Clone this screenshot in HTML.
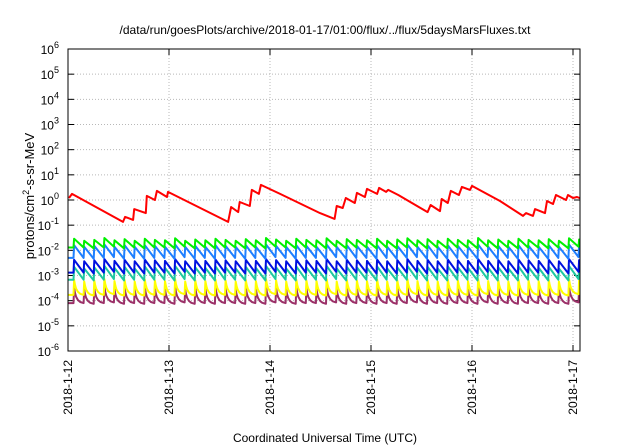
<!DOCTYPE html>
<html><head><meta charset="utf-8">
<style>
html,body{margin:0;padding:0;background:#fff;}
svg{display:block;font-family:"Liberation Sans",sans-serif;}
</style></head>
<body>
<svg id="chart" width="640" height="448" viewBox="0 0 640 448">
  <text x="325" y="34" font-size="12" text-anchor="middle" fill="#000">/data/run/goesPlots/archive/2018-01-17/01:00/flux/../flux/5daysMarsFluxes.txt</text>
  <g id="grid"></g>
  <g id="yticks"></g>
  <g id="xticks"></g>
  <defs><clipPath id="clip"><rect x="68" y="49" width="512" height="302"/></clipPath></defs>
  <g id="series" clip-path="url(#clip)"></g>
  <rect x="68" y="49" width="512" height="302" fill="none" stroke="#000" stroke-width="1"/>
  <text transform="translate(34,196) rotate(-90)" font-size="13" text-anchor="middle">protons/cm<tspan dy="-5" font-size="9">2</tspan><tspan dy="5">-s-sr-MeV</tspan></text>
  <text x="325" y="442" font-size="12" text-anchor="middle">Coordinated Universal Time (UTC)</text>
</svg>
<script>
const yTickExps = [6,5,4,3,2,1,0,-1,-2,-3,-4,-5,-6];
const xTickLabels = ["2018-1-12","2018-1-13","2018-1-14","2018-1-15","2018-1-16","2018-1-17"];
const xTickDays = [0,1,2,3,4,5];

const redDays = [0.01,0.04,0.545,0.565,0.645,0.655,0.77,0.78,0.86,0.88,0.98,0.99,1.585,1.615,1.685,1.70,1.80,1.82,1.89,1.91,2.10,2.495,2.64,2.66,2.72,2.75,2.84,2.86,2.94,2.96,3.06,3.08,3.15,3.17,3.27,3.49,3.56,3.59,3.683,3.70,3.76,3.79,3.87,3.90,3.98,4.0,4.277,4.505,4.535,4.604,4.624,4.723,4.743,4.802,4.832,4.931,4.95,5.0,5.04,5.09];
const redVals = [1.2,1.74,0.135,0.214,0.162,0.436,0.302,1.45,1.0,2.29,1.32,2.09,0.135,0.525,0.331,0.832,0.575,2.51,1.74,3.98,1.74,0.302,0.178,0.575,0.479,1.2,0.759,1.91,1.32,2.75,1.74,3.02,2.09,2.51,1.58,0.479,0.331,0.631,0.363,1.10,0.759,2.29,1.58,3.31,2.51,3.63,0.912,0.234,0.302,0.234,0.436,0.302,0.912,0.692,1.58,1.0,1.58,1.2,1.32,1.10];

const cycleDays = [0.06,0.16,0.26,0.36,0.46,0.56,0.66,0.76,0.86,0.96,1.06,1.16,1.26,1.36,1.46,1.56,1.66,1.76,1.86,1.96,2.06,2.16,2.26,2.36,2.46,2.56,2.66,2.76,2.86,2.96,3.06,3.16,3.26,3.36,3.46,3.56,3.66,3.76,3.86,3.96,4.06,4.16,4.26,4.36,4.46,4.56,4.66,4.76,4.86,4.96,5.06];

const greenPeaks = [0.029,0.024,0.026,0.031,0.025,0.028,0.024,0.029,0.026,0.025,0.030,0.024,0.027,0.025,0.029,0.026,0.024,0.028,0.025,0.031,0.027,0.024,0.029,0.026,0.025,0.030,0.024,0.028,0.026,0.025,0.029,0.024,0.027,0.030,0.025,0.028,0.024,0.029,0.026,0.025,0.031,0.025,0.027,0.024,0.029,0.026,0.025,0.028,0.024,0.030,0.027];
const greenTroughs = [0.013,0.012,0.013,0.014,0.012,0.013,0.012,0.013,0.013,0.012,0.014,0.012,0.013,0.012,0.013,0.013,0.012,0.013,0.012,0.014,0.013,0.012,0.013,0.013,0.012,0.014,0.012,0.013,0.013,0.012,0.013,0.012,0.013,0.014,0.012,0.013,0.012,0.013,0.013,0.012,0.014,0.012,0.013,0.012,0.013,0.013,0.012,0.013,0.012,0.014,0.013];
const lblPeaks = [0.016,0.014,0.015,0.017,0.014,0.016,0.014,0.016,0.015,0.014,0.017,0.014,0.015,0.014,0.016,0.015,0.014,0.016,0.014,0.017,0.015,0.014,0.016,0.015,0.014,0.017,0.014,0.016,0.015,0.014,0.016,0.014,0.015,0.017,0.014,0.016,0.014,0.016,0.015,0.014,0.017,0.014,0.015,0.014,0.016,0.015,0.014,0.016,0.014,0.017,0.015];
const lblTroughs = [0.0050,0.0046,0.0050,0.0054,0.0046,0.0050,0.0046,0.0050,0.0050,0.0046,0.0054,0.0046,0.0050,0.0046,0.0050,0.0050,0.0046,0.0050,0.0046,0.0054,0.0050,0.0046,0.0050,0.0050,0.0046,0.0054,0.0046,0.0050,0.0050,0.0046,0.0050,0.0046,0.0050,0.0054,0.0046,0.0050,0.0046,0.0050,0.0050,0.0046,0.0054,0.0046,0.0050,0.0046,0.0050,0.0050,0.0046,0.0050,0.0046,0.0054,0.0050];
const dblPeaks = [0.0042,0.0037,0.0040,0.0045,0.0038,0.0042,0.0037,0.0043,0.0040,0.0038,0.0045,0.0037,0.0041,0.0038,0.0043,0.0040,0.0037,0.0042,0.0038,0.0045,0.0041,0.0037,0.0043,0.0040,0.0038,0.0045,0.0037,0.0042,0.0040,0.0038,0.0043,0.0037,0.0041,0.0045,0.0038,0.0042,0.0037,0.0043,0.0040,0.0038,0.0045,0.0038,0.0041,0.0037,0.0043,0.0040,0.0038,0.0042,0.0037,0.0045,0.0041];
const dblTroughs = [0.0013,0.0012,0.0013,0.0014,0.0012,0.0013,0.0012,0.0013,0.0013,0.0012,0.0014,0.0012,0.0013,0.0012,0.0013,0.0013,0.0012,0.0013,0.0012,0.0014,0.0013,0.0012,0.0013,0.0013,0.0012,0.0014,0.0012,0.0013,0.0013,0.0012,0.0013,0.0012,0.0013,0.0014,0.0012,0.0013,0.0012,0.0013,0.0013,0.0012,0.0014,0.0012,0.0013,0.0012,0.0013,0.0013,0.0012,0.0013,0.0012,0.0014,0.0013];
const tealPeaks = [0.0022,0.0019,0.0021,0.0024,0.0020,0.0022,0.0019,0.0023,0.0021,0.0020,0.0024,0.0019,0.0021,0.0020,0.0023,0.0021,0.0019,0.0022,0.0020,0.0024,0.0021,0.0019,0.0023,0.0021,0.0020,0.0024,0.0019,0.0022,0.0021,0.0020,0.0023,0.0019,0.0021,0.0024,0.0020,0.0022,0.0019,0.0023,0.0021,0.0020,0.0024,0.0020,0.0021,0.0019,0.0023,0.0021,0.0020,0.0022,0.0019,0.0024,0.0021];
const tealTroughs = [0.00068,0.00064,0.00068,0.00072,0.00064,0.00068,0.00064,0.00068,0.00068,0.00064,0.00072,0.00064,0.00068,0.00064,0.00068,0.00068,0.00064,0.00068,0.00064,0.00072,0.00068,0.00064,0.00068,0.00068,0.00064,0.00072,0.00064,0.00068,0.00068,0.00064,0.00068,0.00064,0.00068,0.00072,0.00064,0.00068,0.00064,0.00068,0.00068,0.00064,0.00072,0.00064,0.00068,0.00064,0.00068,0.00068,0.00064,0.00068,0.00064,0.00072,0.00068];
const yellowPeaks = [0.00067,0.00058,0.00063,0.00072,0.00060,0.00066,0.00058,0.00069,0.00063,0.00060,0.00072,0.00058,0.00064,0.00060,0.00069,0.00063,0.00058,0.00066,0.00060,0.00072,0.00064,0.00058,0.00069,0.00063,0.00060,0.00072,0.00058,0.00066,0.00063,0.00060,0.00069,0.00058,0.00064,0.00072,0.00060,0.00066,0.00058,0.00069,0.00063,0.00060,0.00072,0.00060,0.00064,0.00058,0.00069,0.00063,0.00060,0.00066,0.00058,0.00072,0.00064];
const yellowTroughs = [0.00017,0.00016,0.00017,0.00018,0.00016,0.00017,0.00016,0.00017,0.00017,0.00016,0.00018,0.00016,0.00017,0.00016,0.00017,0.00017,0.00016,0.00017,0.00016,0.00018,0.00017,0.00016,0.00017,0.00017,0.00016,0.00018,0.00016,0.00017,0.00017,0.00016,0.00017,0.00016,0.00017,0.00018,0.00016,0.00017,0.00016,0.00017,0.00017,0.00016,0.00018,0.00016,0.00017,0.00016,0.00017,0.00017,0.00016,0.00017,0.00016,0.00018,0.00017];
const purplePeaks = [0.00032,0.00027,0.00030,0.00035,0.00028,0.00032,0.00027,0.00033,0.00030,0.00028,0.00035,0.00027,0.00031,0.00028,0.00033,0.00030,0.00027,0.00032,0.00028,0.00035,0.00031,0.00027,0.00033,0.00030,0.00028,0.00035,0.00027,0.00032,0.00030,0.00028,0.00033,0.00027,0.00031,0.00035,0.00028,0.00032,0.00027,0.00033,0.00030,0.00028,0.00035,0.00028,0.00031,0.00027,0.00033,0.00030,0.00028,0.00032,0.00027,0.00035,0.00031];
const purpleTroughs = [0.000080,0.000075,0.000080,0.000085,0.000075,0.000080,0.000075,0.000080,0.000080,0.000075,0.000085,0.000075,0.000080,0.000075,0.000080,0.000080,0.000075,0.000080,0.000075,0.000085,0.000080,0.000075,0.000080,0.000080,0.000075,0.000085,0.000075,0.000080,0.000080,0.000075,0.000080,0.000075,0.000080,0.000085,0.000075,0.000080,0.000075,0.000080,0.000080,0.000075,0.000085,0.000075,0.000080,0.000075,0.000080,0.000080,0.000075,0.000080,0.000075,0.000085,0.000080];

const L=68,R=580,T=49,B=351,DAY=101;
const LOGMAX=6,LOGMIN=-6;
function xS(d){return L+d*DAY;}
function yS(v){return T+(LOGMAX-Math.log10(v))*(B-T)/(LOGMAX-LOGMIN);}
function yE(e){return T+(LOGMAX-e)*(B-T)/(LOGMAX-LOGMIN);}
const NS="http://www.w3.org/2000/svg";
function mk(tag,attrs,parent){const el=document.createElementNS(NS,tag);for(const k in attrs)el.setAttribute(k,attrs[k]);parent.appendChild(el);return el;}

const grid=document.getElementById('grid'),yt=document.getElementById('yticks'),xt=document.getElementById('xticks'),sg=document.getElementById('series');

yTickExps.forEach(e=>{
  const y=yE(e);
  if(e!==6&&e!==-6){
    const g=mk('line',{x1:L,x2:R,y1:y,y2:y,stroke:'#b8b8b8','stroke-width':1,'stroke-dasharray':'1,2'},grid);
    
    
  }
  const t1=mk('line',{x1:L,x2:L+6,y1:y,y2:y,stroke:'#000'},yt);
  
  
  const t2=mk('line',{x1:R-6,x2:R,y1:y,y2:y,stroke:'#000'},yt);
  
  
  const lab=mk('text',{x:59,y:y+5,'font-size':12,'text-anchor':'end'},yt);
  
  
  lab.textContent='10';
  const sup=mk('tspan',{dy:-6,'font-size':9},lab);
  sup.textContent=String(e);
});

xTickDays.forEach((d,i)=>{
  const x=xS(d);
  const g=mk('line',{x1:x,x2:x,y1:T,y2:B,stroke:'#b8b8b8','stroke-width':1,'stroke-dasharray':'1,2'},grid);
  
  
  const t1=mk('line',{x1:x,x2:x,y1:B-6,y2:B,stroke:'#000'},xt);
  
  
  const t2=mk('line',{x1:x,x2:x,y1:T,y2:T+6,stroke:'#000'},xt);
  
  
  const lab=mk('text',{transform:`translate(${x+4},360) rotate(-90)`,'font-size':12,'text-anchor':'end'},xt);
  
  
  lab.textContent=xTickLabels[i];
});

function sawPath(peaks,troughs,curved){
  const pts=[[0,troughs[0]]];
  for(let k=0;k<cycleDays.length;k++){
    const t0=cycleDays[k];
    const t1=k+1<cycleDays.length?cycleDays[k+1]-0.006:t0+0.094;
    const pk=peaks[k],tr=troughs[k];
    pts.push([t0-0.006,k>0?troughs[k-1]:troughs[0]]);
    pts.push([t0,pk]);
    if(curved){
      const lp=Math.log10(pk),lt=Math.log10(tr);
      [0.1,0.22,0.4,0.65].forEach(f=>{
        const w=Math.exp(-f*4);
        pts.push([t0+(t1-t0)*f,Math.pow(10,lt+(lp-lt)*w)]);
      });
    }
    pts.push([t1,tr]);
  }
  return pts.map((p,i)=>(i?'L':'M')+xS(p[0]).toFixed(1)+','+yS(p[1]).toFixed(1)).join('');
}

const defs=[
  ['purple-series',purplePeaks,purpleTroughs,'#9b3068',true],
  ['yellow-series',yellowPeaks,yellowTroughs,'#ffff00',true],
  ['teal-series',tealPeaks,tealTroughs,'#1ec8a0',false],
  ['dark-blue-series',dblPeaks,dblTroughs,'#0010e0',false],
  ['light-blue-series',lblPeaks,lblTroughs,'#1e7fff',false],
  ['green-series',greenPeaks,greenTroughs,'#00f000',false]
];
defs.forEach(s=>{
  const p=mk('path',{d:sawPath(s[1],s[2],s[4]),fill:'none',stroke:s[3],'stroke-width':2,'stroke-linejoin':'round'},sg);
  
  
});
const rd=redDays.map((d,i)=>(i?'L':'M')+xS(d).toFixed(1)+','+yS(redVals[i]).toFixed(1)).join('');
const red=mk('path',{d:rd,fill:'none',stroke:'#ff0000','stroke-width':2,'stroke-linejoin':'round'},sg);


</script>
</body></html>
